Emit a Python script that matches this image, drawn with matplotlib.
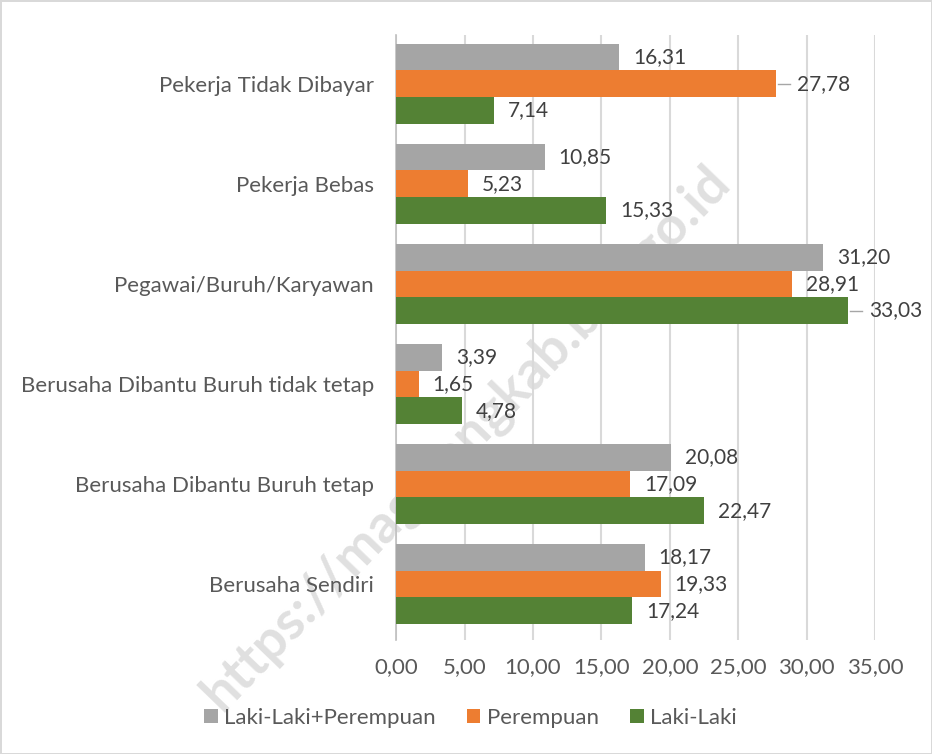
import matplotlib.pyplot as plt
import numpy as np

plt.rcParams['font.family'] = ['Lato', 'DejaVu Sans']

# categories listed bottom to top
categories = ["Berusaha Sendiri", "Berusaha Dibantu Buruh tetap",
              "Berusaha Dibantu Buruh tidak tetap", "Pegawai/Buruh/Karyawan",
              "Pekerja Bebas", "Pekerja Tidak Dibayar"]
total = [18.17, 20.08, 3.39, 31.20, 10.85, 16.31]
perempuan = [19.33, 17.09, 1.65, 28.91, 5.23, 27.78]
laki = [17.24, 22.47, 4.78, 33.03, 15.33, 7.14]
series_names = ["Laki-Laki+Perempuan", "Perempuan", "Laki-Laki"]
xticks = [0, 5, 10, 15, 20, 25, 30, 35]
# labels that Excel pushed out with a leader line
leader = {("Perempuan", 5), ("Laki-Laki", 3)}

colors = ["#a5a5a5", "#ed7d31", "#548235"]
h = 0.8 / 3
y = np.arange(len(categories))

fig = plt.figure(figsize=(9.32, 7.54), dpi=100)
fig.patch.set_edgecolor("#d9d9d9")
fig.patch.set_linewidth(2)
ax = fig.add_axes([0.425, 0.151, 0.514, 0.803])
ax.patch.set_alpha(0)

# watermark, drawn behind the axes
fig.text(0.5, 0.42, "https://magelangkab.bps.go.id", rotation=46, fontsize=39,
         fontweight="bold", color="#e0e0e0", ha="center", va="center", zorder=-1)

offsets = [h, 0, -h]
for vals, off, c, name in zip([total, perempuan, laki], offsets, colors, series_names):
    bars = ax.barh(y + off, vals, height=h, color=c, label=name, zorder=3)
    for i, (b, v) in enumerate(zip(bars, vals)):
        yy = b.get_y() + b.get_height() / 2
        txt = f"{v:.2f}".replace(".", ",")
        if (name, i) in leader:
            ax.plot([v + 0.15, v + 1.0], [yy, yy], color="#a6a6a6", lw=1, zorder=3)
            dx = 15
        else:
            dx = 10
        ax.annotate(txt, (v, yy), xytext=(dx, 0), textcoords="offset points",
                    va="center", ha="left", fontsize=15, color="#404040")

ax.set_xlim(0, 35)
ax.set_ylim(-0.56, 5.49)
ax.set_xticks(xticks)
ax.set_xticklabels([f"{t:.2f}".replace(".", ",") for t in xticks])
ax.set_yticks(y)
ax.set_yticklabels(categories)
ax.tick_params(length=0, labelsize=16, colors="#595959")
ax.tick_params(axis="x", pad=12)
ax.tick_params(axis="y", pad=16)
ax.grid(axis="x", color="#d9d9d9", lw=1.5, zorder=0)
for s in ["top", "right", "bottom"]:
    ax.spines[s].set_visible(False)
ax.spines["left"].set_color("#bfbfbf")
ax.spines["left"].set_linewidth(1.2)

fig.legend(loc="center", bbox_to_anchor=(0.505, 0.048), ncol=3, frameon=False,
           fontsize=16, labelcolor="#595959", handlelength=0.6, handleheight=0.6,
           handletextpad=0.3, columnspacing=1.4)

fig.savefig("out.png", dpi=100)
